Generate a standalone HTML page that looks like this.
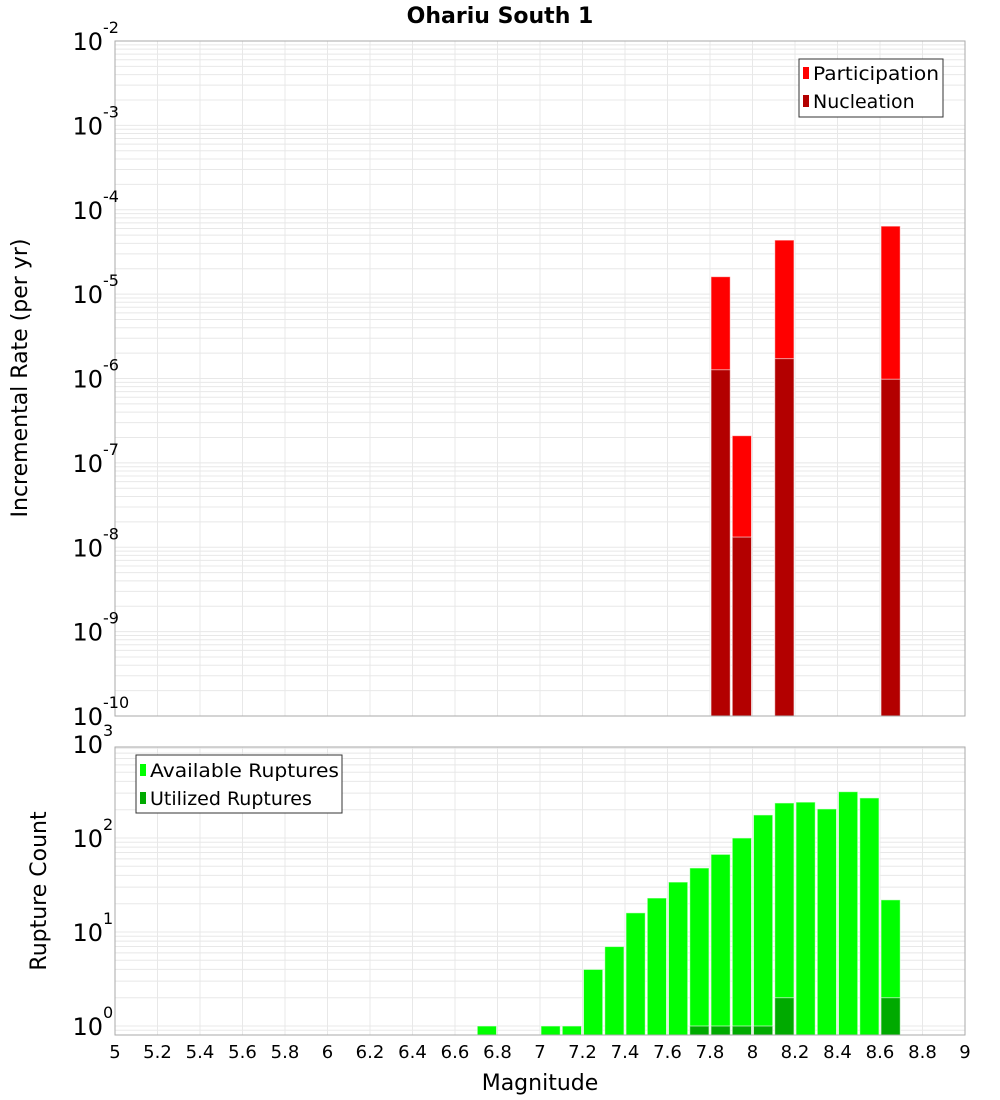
<!DOCTYPE html>
<html><head><meta charset="utf-8"><style>
body{margin:0;background:#fff;}
svg{display:block;font-family:"DejaVu Sans","Liberation Sans",sans-serif;}
</style></head><body>
<svg id="chart" width="1000" height="1100" viewBox="0 0 1000 1100">
<text x="500" y="23" text-anchor="middle" font-size="22" font-weight="bold">Ohariu South 1</text>
<g id="topg"></g><g id="botg"></g><g id="xaxis"></g>
<text transform="translate(27,378) rotate(-90)" text-anchor="middle" font-size="22">Incremental Rate (per yr)</text>
<text transform="translate(46,891) rotate(-90)" text-anchor="middle" font-size="22">Rupture Count</text>
<text x="540" y="1090" text-anchor="middle" font-size="22">Magnitude</text>
<g>
<rect x="799" y="59" width="144" height="58" fill="#fff" stroke="#333"/>
<rect x="803" y="67" width="6" height="12" fill="#ff0000"/>
<text x="813" y="80" font-size="19" textLength="126" lengthAdjust="spacingAndGlyphs">Participation</text>
<rect x="803" y="95" width="6" height="12" fill="#b30000"/>
<text x="813" y="108" font-size="19">Nucleation</text>
</g>
<g>
<rect x="136" y="755" width="206" height="58" fill="#fff" stroke="#333"/>
<rect x="140" y="764" width="6" height="12" fill="#00ff00"/>
<text x="150" y="777" font-size="19" textLength="189" lengthAdjust="spacingAndGlyphs">Available Ruptures</text>
<rect x="140" y="792" width="6" height="12" fill="#00aa00"/>
<text x="150" y="805" font-size="19">Utilized Ruptures</text>
</g>
</svg>
<script>
const magBins=[7.8,7.9,8.1,8.6];
const participation=[1.61e-5,2.1e-7,4.37e-5,6.4e-5];
const nucleation=[1.27e-6,1.32e-8,1.72e-6,9.8e-7];
const countBins=[6.7,7.0,7.1,7.2,7.3,7.4,7.5,7.6,7.7,7.8,7.9,8.0,8.1,8.2,8.3,8.4,8.5,8.6];
const available=[1,1,1,4,7,16,23,34,48,67,100,176,236,241,204,311,267,22];
const utilBins=[7.7,7.8,7.9,8.0,8.1,8.6];
const utilized=[1,1,1,1,2,2];
const xTicks=[5,5.2,5.4,5.6,5.8,6,6.2,6.4,6.6,6.8,7,7.2,7.4,7.6,7.8,8,8.2,8.4,8.6,8.8,9];
const topExps=[-2,-3,-4,-5,-6,-7,-8,-9,-10];
const botExps=[0,1,2,3];

const NS="http://www.w3.org/2000/svg";
const L=115,R=965;
const x=m=>L+(m-5)/4*(R-L);
const T0=41,T1=716;
const yTop=v=>T0+(-2-Math.log10(v))*(T1-T0)/8;
const B0=747,B1=1035,bDec=94,b0=1026;
const yBot=v=>b0-Math.log10(v)*bDec;
function mk(p,tag,a){const e=document.createElementNS(NS,tag);for(const k in a)e.setAttribute(k,a[k]);p.appendChild(e);return e;}
function grid(g,y0,y1,yf,lo,hi){
  for(let d=lo;d<hi;d++)for(let k=1;k<10;k++){const y=yf(k*Math.pow(10,d));if(y<y0||y>y1)continue;
    const l=mk(g,'line',{x1:L,x2:R,y1:y,y2:y,stroke:'#e8e8e8','stroke-width':1});
    
    }
  xTicks.forEach(t=>{const l=mk(g,'line',{x1:x(t),x2:x(t),y1:y0,y2:y1,stroke:'#e8e8e8'});
    
    });
}
const gTop=document.getElementById('topg'),gBot=document.getElementById('botg'),xa=document.getElementById('xaxis');
grid(gTop,T0,T1,yTop,-10,-2);
grid(gBot,B0,B1,yBot,-1,3);
function bar(g,m,v,yf,base,fill,name){
  const y=yf(v);const r=mk(g,'rect',{x:x(m)+1,y:y,width:x(m+0.1)-x(m)-2,height:base-y,fill:fill,stroke:'rgba(255,255,255,0.6)','stroke-width':1});
  
  
}
magBins.forEach((m,i)=>bar(gTop,m,participation[i],yTop,T1,'#ff0000','participation-bar'));
magBins.forEach((m,i)=>bar(gTop,m,nucleation[i],yTop,T1,'#b30000','nucleation-bar'));
countBins.forEach((m,i)=>bar(gBot,m,available[i],yBot,B1,'#00ff00','available-bar'));
utilBins.forEach((m,i)=>bar(gBot,m,utilized[i],yBot,B1,'#00aa00','utilized-bar'));
mk(gTop,'rect',{x:L,y:T0,width:R-L,height:T1-T0,fill:'none',stroke:'#aaa'});
mk(gBot,'rect',{x:L,y:B0,width:R-L,height:B1-B0,fill:'none',stroke:'#aaa'});
function expLabel(g,y,e,name){
  const t=mk(g,'text',{x:103,y:y+9,'text-anchor':'end','font-size':24});
  
  
  t.textContent='10';
  const s=mk(g,'text',{x:103,y:y-8,'text-anchor':'start','font-size':16});
  
  
  s.textContent=String(e);
}
topExps.forEach(e=>expLabel(gTop,yTop(Math.pow(10,e)),e,'top-y-tick'));
botExps.forEach(e=>expLabel(gBot,yBot(Math.pow(10,e)),e,'bottom-y-tick'));
xTicks.forEach(t=>{const l=mk(xa,'text',{x:x(t),y:1058,'text-anchor':'middle','font-size':18});
  
  
  l.textContent=String(t);});
</script>
</body></html>
